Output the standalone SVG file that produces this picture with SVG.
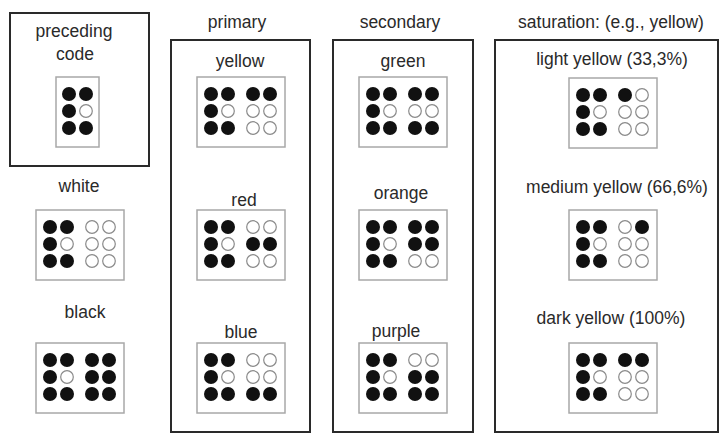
<svg xmlns="http://www.w3.org/2000/svg" width="720" height="435" viewBox="0 0 720 435">
<defs>
<style>
.frame{fill:none;stroke:#2a2a2a;stroke-width:2}
.cell{fill:#fff;stroke:#a8a8a8;stroke-width:1.5}
.f{fill:#111}
.e{fill:#fff;stroke:#8a8a8a;stroke-width:1.2}
text{font-family:"Liberation Sans",Arial,sans-serif;font-size:17.5px;fill:#2a2a2a;text-anchor:middle}
</style>
<circle id="F" class="f" r="7"/>
<circle id="E" class="e" r="6.3"/>
<g id="L">
<use href="#F" x="14" y="17"/><use href="#F" x="31" y="17"/>
<use href="#F" x="14" y="34"/><use href="#E" x="31" y="34"/>
<use href="#F" x="14" y="51"/><use href="#F" x="31" y="51"/>
</g>
</defs>
<rect width="720" height="435" fill="#fff"/>

<g id="titles">
<text x="237" y="28">primary</text>
<text x="400" y="28">secondary</text>
<text x="611" y="28">saturation: (e.g., yellow)</text>
</g>

<g id="frames">
<rect class="frame" x="10" y="13" width="139" height="153"/>
<rect class="frame" x="171" y="40" width="139" height="392"/>
<rect class="frame" x="333" y="40" width="140" height="392"/>
<rect class="frame" x="495" y="40" width="223" height="392"/>
</g>

<g id="preceding">
<text x="74" y="37">preceding</text>
<text x="75" y="60">code</text>
<rect class="cell" x="56" y="77" width="43" height="70"/>
<use href="#F" x="69" y="94"/><use href="#F" x="86" y="94"/>
<use href="#F" x="69" y="111"/><use href="#E" x="86" y="111"/>
<use href="#F" x="69" y="128"/><use href="#F" x="86" y="128"/>
</g>

<g id="white">
<text x="79" y="192">white</text>
<g transform="translate(36,210)">
<rect class="cell" width="88" height="70"/><use href="#L"/>
<use href="#E" x="56" y="17"/><use href="#E" x="73" y="17"/>
<use href="#E" x="56" y="34"/><use href="#E" x="73" y="34"/>
<use href="#E" x="56" y="51"/><use href="#E" x="73" y="51"/>
</g>
</g>

<g id="black">
<text x="85" y="318">black</text>
<g transform="translate(36,343)">
<rect class="cell" width="88" height="70"/><use href="#L"/>
<use href="#F" x="56" y="17"/><use href="#F" x="73" y="17"/>
<use href="#F" x="56" y="34"/><use href="#F" x="73" y="34"/>
<use href="#F" x="56" y="51"/><use href="#F" x="73" y="51"/>
</g>
</g>

<g id="yellow">
<text x="240" y="67">yellow</text>
<g transform="translate(197,77)">
<rect class="cell" width="88" height="70"/><use href="#L"/>
<use href="#F" x="56" y="17"/><use href="#F" x="73" y="17"/>
<use href="#E" x="56" y="34"/><use href="#E" x="73" y="34"/>
<use href="#E" x="56" y="51"/><use href="#E" x="73" y="51"/>
</g>
</g>

<g id="red">
<text x="244" y="206">red</text>
<g transform="translate(197,210)">
<rect class="cell" width="88" height="70"/><use href="#L"/>
<use href="#E" x="56" y="17"/><use href="#E" x="73" y="17"/>
<use href="#F" x="56" y="34"/><use href="#F" x="73" y="34"/>
<use href="#E" x="56" y="51"/><use href="#E" x="73" y="51"/>
</g>
</g>

<g id="blue">
<text x="241" y="338">blue</text>
<g transform="translate(197,343)">
<rect class="cell" width="88" height="70"/><use href="#L"/>
<use href="#E" x="56" y="17"/><use href="#E" x="73" y="17"/>
<use href="#E" x="56" y="34"/><use href="#E" x="73" y="34"/>
<use href="#F" x="56" y="51"/><use href="#F" x="73" y="51"/>
</g>
</g>

<g id="green">
<text x="403" y="67">green</text>
<g transform="translate(359,77)">
<rect class="cell" width="88" height="70"/><use href="#L"/>
<use href="#F" x="56" y="17"/><use href="#F" x="73" y="17"/>
<use href="#E" x="56" y="34"/><use href="#E" x="73" y="34"/>
<use href="#F" x="56" y="51"/><use href="#F" x="73" y="51"/>
</g>
</g>

<g id="orange">
<text x="401" y="199">orange</text>
<g transform="translate(359,210)">
<rect class="cell" width="88" height="70"/><use href="#L"/>
<use href="#F" x="56" y="17"/><use href="#F" x="73" y="17"/>
<use href="#F" x="56" y="34"/><use href="#F" x="73" y="34"/>
<use href="#E" x="56" y="51"/><use href="#E" x="73" y="51"/>
</g>
</g>

<g id="purple">
<text x="396" y="337">purple</text>
<g transform="translate(359,343)">
<rect class="cell" width="88" height="70"/><use href="#L"/>
<use href="#E" x="56" y="17"/><use href="#E" x="73" y="17"/>
<use href="#F" x="56" y="34"/><use href="#F" x="73" y="34"/>
<use href="#F" x="56" y="51"/><use href="#F" x="73" y="51"/>
</g>
</g>

<g id="light-yellow">
<text x="612" y="65">light yellow (33,3%)</text>
<g transform="translate(569,78)">
<rect class="cell" width="88" height="70"/><use href="#L"/>
<use href="#F" x="56" y="17"/><use href="#E" x="73" y="17"/>
<use href="#E" x="56" y="34"/><use href="#E" x="73" y="34"/>
<use href="#E" x="56" y="51"/><use href="#E" x="73" y="51"/>
</g>
</g>

<g id="medium-yellow">
<text x="617" y="193">medium yellow (66,6%)</text>
<g transform="translate(569,210)">
<rect class="cell" width="88" height="70"/><use href="#L"/>
<use href="#E" x="56" y="17"/><use href="#F" x="73" y="17"/>
<use href="#E" x="56" y="34"/><use href="#E" x="73" y="34"/>
<use href="#E" x="56" y="51"/><use href="#E" x="73" y="51"/>
</g>
</g>

<g id="dark-yellow">
<text x="611" y="324">dark yellow (100%)</text>
<g transform="translate(569,343)">
<rect class="cell" width="88" height="70"/><use href="#L"/>
<use href="#F" x="56" y="17"/><use href="#F" x="73" y="17"/>
<use href="#E" x="56" y="34"/><use href="#E" x="73" y="34"/>
<use href="#E" x="56" y="51"/><use href="#E" x="73" y="51"/>
</g>
</g>

<g id="connectors"/>
</svg>
